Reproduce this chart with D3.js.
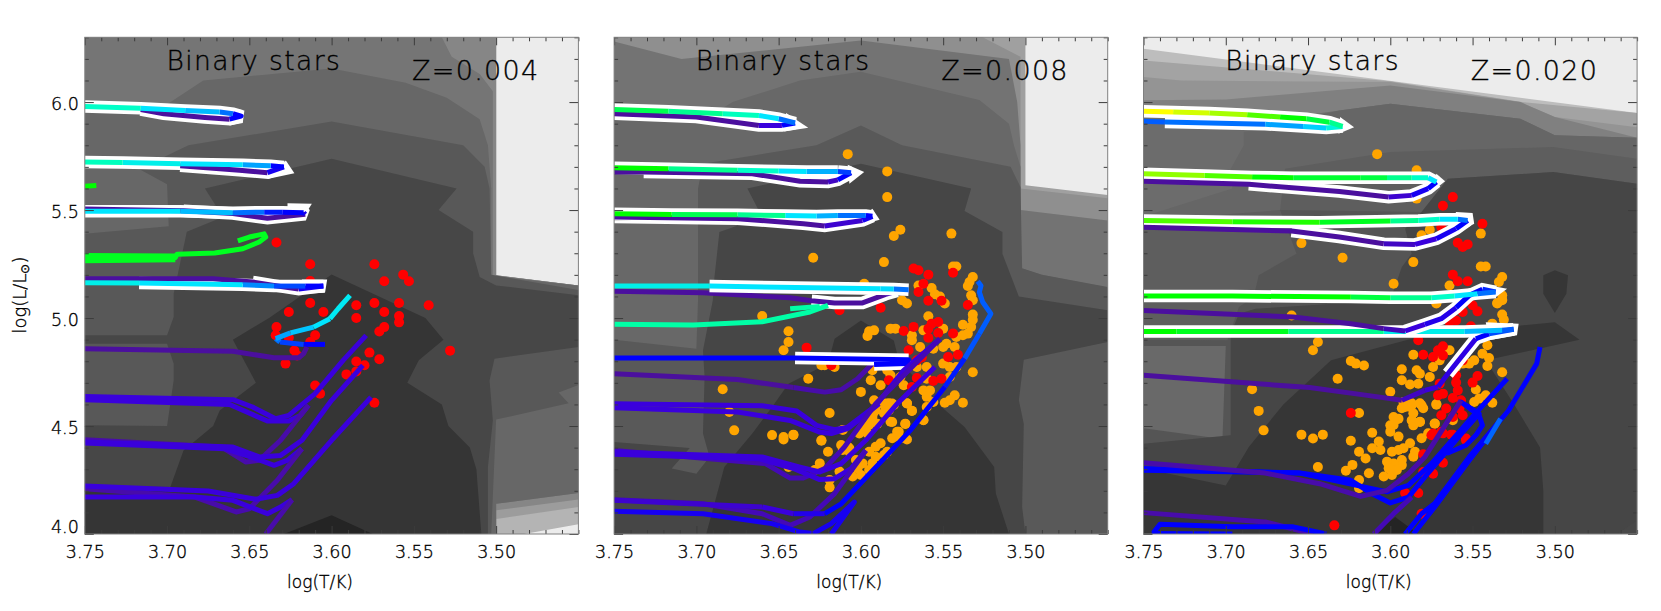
<!DOCTYPE html>
<html><head><meta charset="utf-8">
<script src="https://cdn.jsdelivr.net/npm/d3@7"></script>
<style>
html,body{margin:0;padding:0;background:#fff}
text{font-family:"DejaVu Sans",sans-serif;font-weight:200;fill:#000;stroke:#000;stroke-width:0.35}
</style></head><body>
<svg id="c" width="1661" height="611"></svg>
<script>
// ---------- DATA ----------
const metallicities = ["Z=0.004","Z=0.008","Z=0.020"];
const panelTitle = "Binary stars";
const xMajorTicks = [3.75,3.70,3.65,3.60,3.55,3.50];
const yMajorTicks = [4.0,4.5,5.0,5.5,6.0];

// density contours, logT/logL, outer to inner
const contours1 = [
 [[3.75,6.3],[3.50,6.3],[3.50,5.198],[3.45,5.151],[3.45,4.045],[3.483,4.0],[3.75,4.0]],
 [[3.75,6.3],[3.50,6.3],[3.50,5.198],[3.45,5.151],[3.45,4.125],[3.50,4.07],[3.50,4.0],[3.75,4.0]],
 [[3.75,6.3],[3.50,6.3],[3.50,5.198],[3.45,5.151],[3.45,4.16],[3.50,4.11],[3.50,4.0],[3.75,4.0]],
 [[3.75,6.3],[3.533,6.3],[3.527,6.21],[3.51,6.13],[3.502,6.05],[3.502,5.198],[3.45,5.151],[3.45,4.19],[3.50,4.14],[3.50,4.0],[3.75,4.0]],
 [[3.75,5.965],[3.702,5.98],[3.678,6.1],[3.60,6.155],[3.555,6.09],[3.53,6.02],[3.51,5.92],[3.505,5.8],[3.503,5.6],[3.503,5.195],[3.45,5.15],[3.45,4.19],[3.50,4.14],[3.50,4.0],[3.75,4.0]],
 [[3.75,5.39],[3.699,5.425],[3.70,5.62],[3.717,5.69],[3.687,5.80],[3.60,5.91],[3.52,5.80],[3.507,5.70],[3.504,5.60],[3.503,5.20],[3.45,5.13],[3.45,4.69],[3.462,4.655],[3.456,4.605],[3.50,4.53],[3.503,4.0],[3.75,4.0]],
 [[3.677,5.60],[3.60,5.738],[3.524,5.60],[3.535,5.50],[3.514,5.40],[3.514,5.30],[3.51,5.19],[3.50,5.151],[3.45,5.105],[3.45,4.866],[3.501,4.812],[3.504,4.711],[3.502,4.526],[3.505,4.31],[3.505,4.0],[3.75,4.0],[3.75,4.503],[3.70,4.50],[3.696,4.711],[3.696,4.789],[3.70,4.881],[3.75,4.881],[3.75,4.92],[3.70,4.92],[3.696,5.005],[3.696,5.113],[3.688,5.40],[3.666,5.468]],
 [[3.638,5.0],[3.60,5.202],[3.543,5.0],[3.532,4.90],[3.547,4.804],[3.554,4.70],[3.533,4.60],[3.529,4.50],[3.516,4.40],[3.512,4.30],[3.51,4.10],[3.509,4.0],[3.75,4.0],[3.75,4.225],[3.698,4.218],[3.69,4.387],[3.672,4.50],[3.668,4.572],[3.646,4.70],[3.66,4.90]],
 [[3.629,4.0],[3.60,4.087],[3.575,4.0]]
];
const contours2 = [
 [[3.75,6.3],[3.50,6.3],[3.50,5.615],[3.45,5.57],[3.45,4.0],[3.75,4.0]],
 [[3.75,6.3],[3.526,6.3],[3.503,6.21],[3.503,5.60],[3.45,5.555],[3.45,4.0],[3.75,4.0]],
 [[3.75,6.28],[3.709,6.2],[3.60,6.285],[3.51,6.2],[3.505,6.0],[3.503,5.8],[3.503,5.5],[3.45,5.452],[3.45,4.0],[3.75,4.0]],
 [[3.75,5.95],[3.695,5.92],[3.678,6.0],[3.637,6.1],[3.60,6.14],[3.528,6.01],[3.51,5.9],[3.507,5.8],[3.503,5.7],[3.503,5.23],[3.49,5.2],[3.45,5.14],[3.45,4.0],[3.75,4.0]],
 [[3.699,5.60],[3.696,5.715],[3.627,5.80],[3.60,5.892],[3.575,5.80],[3.509,5.70],[3.503,5.607],[3.502,5.23],[3.49,5.2],[3.45,5.144],[3.45,4.0],[3.75,4.0],[3.75,4.90],[3.70,4.858],[3.699,5.082]],
 [[3.669,5.60],[3.60,5.715],[3.533,5.60],[3.537,5.496],[3.514,5.398],[3.514,5.298],[3.504,5.10],[3.45,5.036],[3.45,4.889],[3.501,4.807],[3.504,4.619],[3.501,4.511],[3.502,4.125],[3.50,4.0],[3.75,4.0],[3.75,4.426],[3.704,4.398],[3.715,4.303],[3.70,4.279],[3.692,4.357],[3.696,4.465],[3.695,4.727],[3.696,4.85],[3.69,5.082],[3.689,5.19],[3.686,5.398],[3.66,5.468]],
 [[3.60,4.989],[3.616,4.904],[3.62,4.789],[3.644,4.696],[3.654,4.588],[3.666,4.465],[3.683,4.31],[3.694,4.0],[3.51,4.0],[3.518,4.187],[3.519,4.31],[3.537,4.495],[3.551,4.588],[3.577,4.804],[3.58,4.896]]
];
const contours3 = [
 [[3.75,6.247],[3.45,5.949],[3.45,4.0],[3.75,4.0]],
 [[3.75,6.193],[3.60,6.097],[3.52,6.0],[3.45,5.949],[3.45,4.0],[3.75,4.0]],
 [[3.75,6.116],[3.727,6.10],[3.60,6.093],[3.521,6.0],[3.50,5.931],[3.45,5.884],[3.45,4.0],[3.75,4.0]],
 [[3.75,6.008],[3.70,6.012],[3.60,6.077],[3.521,6.0],[3.50,5.931],[3.45,5.835],[3.45,4.0],[3.75,4.0]],
 [[3.75,5.95],[3.689,5.90],[3.631,5.961],[3.60,5.992],[3.521,5.923],[3.50,5.846],[3.45,5.835],[3.45,4.0],[3.75,4.0]],
 [[3.689,5.861],[3.631,5.961],[3.60,5.992],[3.521,5.923],[3.50,5.846],[3.45,5.835],[3.45,4.0],[3.75,4.0],[3.75,5.47],[3.696,5.60],[3.697,5.691],[3.689,5.80]],
 [[3.664,5.691],[3.60,5.769],[3.501,5.792],[3.45,5.738],[3.45,4.0],[3.75,4.0],[3.75,5.45],[3.667,5.50]],
 [[3.667,5.50],[3.581,5.491],[3.565,5.645],[3.501,5.676],[3.45,5.622],[3.45,4.0],[3.75,4.0],[3.75,4.9],[3.699,4.897],[3.692,5.051],[3.683,5.097],[3.68,5.198],[3.657,5.298]],
 [[3.75,4.87],[3.70,4.87],[3.702,4.44],[3.75,4.49]],
 [[3.581,5.491],[3.565,5.645],[3.501,5.676],[3.45,5.622],[3.45,4.0],[3.75,4.0],[3.75,4.418],[3.697,4.457],[3.697,4.927],[3.692,5.02],[3.682,5.043],[3.60,5.082],[3.593,5.236],[3.587,5.298],[3.591,5.414]],
 [[3.507,5.198],[3.50,5.221],[3.492,5.198],[3.493,5.113],[3.50,5.023],[3.507,5.113]],
 [[3.579,4.92],[3.50,4.981],[3.485,4.90],[3.542,4.804],[3.525,4.603],[3.509,4.40],[3.507,4.202],[3.507,4.0],[3.75,4.0],[3.75,4.303],[3.70,4.225],[3.686,4.403],[3.665,4.60],[3.636,4.804]],
 [[3.61,4.0],[3.597,4.079],[3.583,4.0]],
 [[3.462,4.0],[3.45,4.063],[3.45,4.0]]
];

// evolutionary tracks: [logT, logL, colour value]
const tracks1 = [
 [[3.75,5.98,3.5],[3.716,5.972,3],[3.689,5.961,2.6],[3.668,5.954,2],[3.66,5.946,1],[3.655,5.935,1],[3.662,5.921,0],[3.677,5.929,0],[3.702,5.946,0],[3.716,5.965,0]],
 [[3.75,5.722,3.6],[3.727,5.72,3.2],[3.692,5.715,3],[3.654,5.71,2.4],[3.637,5.705,1],[3.629,5.70,0.8],[3.639,5.673,0],[3.656,5.684,0],[3.692,5.705,0]],
 [[3.75,5.495,3],[3.692,5.494,2.6],[3.66,5.488,2],[3.641,5.49,1.2],[3.63,5.49,1],[3.617,5.488,0.8],[3.616,5.48,0],[3.639,5.462,0],[3.66,5.484,0],[3.69,5.497,0],[3.75,5.505,0]],
 [[3.75,5.164,3.2],[3.717,5.162,3],[3.654,5.154,2.2],[3.635,5.148,1.6],[3.616,5.148,1],[3.605,5.148,0.8],[3.62,5.134,0],[3.635,5.151,0],[3.648,5.167,0],[3.672,5.182,0],[3.75,5.182,0]],
 [[3.75,5.61,5],[3.743,5.614,5]],
 [[3.75,5.265,4.8],[3.695,5.27,4.8]],
 [[3.75,5.29,4.8],[3.695,5.287,4.8]],
 [[3.75,5.279,4.8],[3.695,5.279,4.8],[3.694,5.295,4.8],[3.671,5.301,4.8],[3.654,5.321,4.8],[3.644,5.352,4.8],[3.64,5.375,4.8],[3.641,5.39,4.8],[3.65,5.375,4.8],[3.657,5.357,4.8]],
 [[3.5888,5.105,3.1],[3.596,5.043,3.1],[3.601,4.997,3],[3.611,4.958,2.7],[3.625,4.931,2.4],[3.634,4.905,2],[3.6314,4.889,1.5],[3.617,4.878,1],[3.604,4.878,1]],
 [[3.75,4.858,0],[3.66,4.846,0],[3.635,4.816,0],[3.62,4.816,0],[3.617,4.835,0],[3.615,4.866,0]],
 [[3.75,4.637,0.5],[3.66,4.622,0.5],[3.648,4.588,0.5],[3.634,4.534,0.5],[3.626,4.549,0.5],[3.61,4.65,0.5],[3.593,4.804,0.5],[3.579,4.92,0.5]],
 [[3.75,4.622,0.5],[3.662,4.60,0.5],[3.639,4.523,0.5],[3.626,4.523,0.5],[3.619,4.549,0.5],[3.614,4.596,0.5]],
 [[3.75,4.437,0.1],[3.667,4.403,0.1],[3.652,4.333,0.1],[3.644,4.341,0.1],[3.631,4.434,0.1],[3.614,4.596,0.1]],
 [[3.75,4.421,0.5],[3.665,4.395,0.5],[3.646,4.349,0.5],[3.635,4.318,0.5],[3.627,4.341,0.5],[3.618,4.395,0.5]],
 [[3.75,4.426,0.5],[3.66,4.403,0.5],[3.644,4.357,0.5],[3.631,4.364,0.5],[3.618,4.434,0.5],[3.60,4.619,0.5],[3.581,4.781,0.5]],
 [[3.75,4.21,0.1],[3.683,4.171,0.1],[3.658,4.102,0.1],[3.65,4.117,0.1],[3.633,4.249,0.1],[3.618,4.395,0.1]],
 [[3.75,4.171,0.5],[3.683,4.171,0.5],[3.66,4.156,0.5],[3.639,4.094,0.5],[3.631,4.125,0.5],[3.624,4.159,0.5]],
 [[3.624,4.159,0.1],[3.64,4.0,0.1]],
 [[3.75,4.222,0.5],[3.675,4.199,0.5],[3.646,4.161,0.5],[3.633,4.179,0.5],[3.623,4.233,0.5],[3.60,4.434,0.5],[3.576,4.634,0.5]]
];
const whiteSpans1 = [[[0,9]],[[0,8]],[[0,5],[5,9]],[[1,5],[5,8]],[],[],[],[],[],[],[],[],[],[],[],[],[],[],[]];
const whiteCaps1 = [
 [[3.662,5.974],[3.653,5.961],[3.654,5.903],[3.662,5.892]],
 [[3.6278,5.73],[3.6226,5.671],[3.639,5.644]],
 [[3.6268,5.532],[3.612,5.529],[3.617,5.468],[3.6268,5.452]],
 [[3.618,5.178],[3.6027,5.178],[3.604,5.117],[3.6226,5.11]],
 [],[],[],[],[],[],[],[],[],[],[],[],[],[],[]
];

const tracks2 = [
 [[3.75,5.966,4.5],[3.717,5.958,4],[3.684,5.946,3.6],[3.662,5.938,3],[3.65,5.923,2],[3.64,5.903,1],[3.648,5.892,0.5],[3.662,5.892,0],[3.70,5.931,0],[3.75,5.946,0]],
 [[3.75,5.696,5],[3.717,5.691,4],[3.675,5.684,3.5],[3.65,5.681,3],[3.633,5.679,2.5],[3.614,5.679,1.5],[3.606,5.673,1],[3.614,5.64,0.3],[3.62,5.63,0],[3.637,5.633,0],[3.666,5.668,0],[3.732,5.676,0],[3.75,5.676,0]],
 [[3.75,5.483,5],[3.715,5.48,4.5],[3.675,5.478,4],[3.646,5.475,3],[3.627,5.472,2.5],[3.614,5.475,2],[3.597,5.475,1],[3.593,5.471,0.8],[3.599,5.452,0.4],[3.622,5.426,0],[3.635,5.437,0],[3.675,5.46,0],[3.75,5.468,0]],
 [[3.75,5.124,0],[3.696,5.117,0],[3.643,5.094,0],[3.63,5.08,0],[3.616,5.07,0],[3.599,5.07,0],[3.585,5.11,0.2],[3.578,5.125,0.6],[3.571,5.128,1]],
 [[3.75,5.148,3.2],[3.692,5.148,3],[3.588,5.136,2.9],[3.58,5.134,2],[3.571,5.131,1.5]],
 [[3.643,5.043,3.8],[3.625,5.054,3.8]],
 [[3.75,4.971,3.8],[3.702,4.968,3.8],[3.66,4.983,3.8],[3.631,5.028,3.8],[3.62,5.059,3.8]],
 [[3.75,4.742,0],[3.675,4.715,0],[3.641,4.678,0.1],[3.622,4.657,0.1],[3.612,4.668,0.1],[3.602,4.719,0.1],[3.592,4.796,0.1]],
 [[3.75,4.815,1],[3.64,4.815,1],[3.571,4.807,1],[3.572,4.79,1],[3.592,4.785,1]],
 [[3.75,4.603,0.5],[3.66,4.594,0.5],[3.639,4.57,0.5],[3.627,4.503,0.5],[3.616,4.483,0.5],[3.608,4.495,0.5],[3.591,4.594,0.5],[3.574,4.758,0.5],[3.552,4.904,0.5]],
 [[3.75,4.585,0.5],[3.675,4.565,0.5],[3.643,4.526,0.5],[3.625,4.472,0.5],[3.618,4.465,0.5],[3.608,4.488,0.5],[3.599,4.542,0.5],[3.589,4.603,0.5]],
 [[3.75,4.387,0.2],[3.658,4.326,0.2],[3.643,4.259,0.2],[3.635,4.259,0.2],[3.622,4.303,0.2],[3.61,4.403,0.2],[3.591,4.603,0.2],[3.552,4.904,0.2]],
 [[3.75,4.369,0.5],[3.662,4.349,0.5],[3.641,4.303,0.5],[3.625,4.252,0.5],[3.616,4.256,0.5],[3.606,4.303,0.5],[3.597,4.387,0.5]],
 [[3.75,4.38,0.5],[3.66,4.357,0.5],[3.637,4.31,0.5],[3.625,4.287,0.5],[3.612,4.326,0.5],[3.597,4.434,0.5],[3.578,4.603,0.5],[3.555,4.773,0.5]],
 [[3.75,4.159,0.2],[3.696,4.14,0.2],[3.66,4.094,0.2],[3.643,4.04,0.2],[3.631,4.079,0.2],[3.616,4.187,0.2],[3.597,4.387,0.2]],
 [[3.75,4.105,0.8],[3.696,4.094,0.8],[3.654,4.048,0.8],[3.637,4.009,0.8],[3.629,4.002,0.8],[3.618,4.048,0.8],[3.604,4.148,0.8],[3.618,4.0,0.3]],
 [[3.75,4.156,0.4],[3.66,4.125,0.5],[3.641,4.094,0.7],[3.622,4.094,1],[3.612,4.14,1],[3.585,4.357,1],[3.57,4.48,1],[3.549,4.681,1.2],[3.537,4.812,1.7],[3.528,4.927,1.8],[3.521,5.02,1.8],[3.526,5.074,1.8],[3.528,5.12,1.8],[3.527,5.15,1.8],[3.529,5.17,1.8]]
];
const whiteSpans2 = [[[0,9]],[[0,5],[5,11]],[[0,12]],[[3,7]],[[1,4]],[],[],[],[[1,2],[2,4]],[],[],[],[],[],[],[],[]];
const whiteCaps2 = [
 [[3.6455,5.949],[3.632,5.881],[3.6466,5.864]],
 [[3.608,5.71],[3.598,5.676],[3.607,5.622]],
 [[3.593,5.506],[3.5886,5.455],[3.609,5.414]],
 [],[],[],[],[],[],[],[],[],[],[],[],[],[]
];

const tracks3 = [
 [[3.75,5.958,7],[3.732,5.954,6.6],[3.71,5.949,6.2],[3.687,5.941,5.5],[3.667,5.931,5],[3.651,5.923,4.6],[3.637,5.907,4],[3.629,5.887,3.3],[3.639,5.88,2.8],[3.653,5.887,2.4],[3.676,5.897,2],[3.737,5.908,1.8],[3.75,5.911,1.6]],
 [[3.75,5.668,6],[3.713,5.66,5.5],[3.684,5.653,5],[3.659,5.65,4.7],[3.618,5.65,4.6],[3.602,5.65,4],[3.587,5.65,3.5],[3.577,5.65,3],[3.572,5.63,1],[3.577,5.599,0.8],[3.587,5.568,0.4],[3.601,5.56,0],[3.631,5.586,0],[3.686,5.619,0],[3.75,5.633,0]],
 [[3.75,5.452,5.5],[3.696,5.446,5.2],[3.643,5.444,4.8],[3.60,5.449,4],[3.583,5.452,3.5],[3.57,5.457,3],[3.559,5.457,2],[3.553,5.452,1],[3.56,5.414,0.8],[3.572,5.367,0.5],[3.585,5.341,0.3],[3.604,5.344,0],[3.631,5.375,0],[3.66,5.403,0],[3.75,5.421,0]],
 [[3.75,4.938,5],[3.73,4.938,4.8],[3.662,4.938,4],[3.604,4.938,3.2],[3.555,4.938,2.6],[3.532,4.943,1.8],[3.525,4.948,1.6],[3.54,4.927,1],[3.548,4.904,0.6],[3.565,4.742,0.6],[3.571,4.681,0.5],[3.579,4.665,0.3],[3.593,4.619,0],[3.614,4.642,0],[3.649,4.678,0],[3.75,4.735,0]],
 [[3.75,5.102,5],[3.696,5.102,5],[3.624,5.097,4.6],[3.60,5.094,4],[3.575,5.094,3.5],[3.561,5.102,3],[3.547,5.113,2],[3.536,5.121,1.3],[3.544,5.133,1],[3.552,5.105,1],[3.56,5.048,0.7],[3.569,4.997,0.7],[3.579,4.971,0.5],[3.591,4.94,0.2],[3.604,4.951,0],[3.624,4.974,0],[3.659,5.005,0],[3.75,5.035,0]],
 [[3.75,4.303,1],[3.655,4.282,1],[3.624,4.249,1],[3.612,4.19,1],[3.60,4.144,1],[3.589,4.171,1],[3.579,4.264,1],[3.567,4.372,1],[3.555,4.48,1],[3.546,4.557,1],[3.557,4.611,1],[3.546,4.549,1],[3.544,4.503,1],[3.548,4.457,1],[3.554,4.411,1],[3.565,4.375,1],[3.567,4.395,1]],
 [[3.75,4.295,1],[3.655,4.282,1],[3.602,4.195,1],[3.589,4.225,1],[3.575,4.326,1],[3.552,4.526,1],[3.542,4.611,1],[3.529,4.719,1]],
 [[3.75,4.33,0.1],[3.676,4.282,0.1],[3.643,4.233,0.1],[3.618,4.174,0.1],[3.602,4.202,0.1],[3.589,4.279,0.1],[3.579,4.357,0.1],[3.557,4.619,0.1]],
 [[3.591,4.0,1],[3.581,4.094,1],[3.573,4.141,1],[3.552,4.357,1],[3.528,4.573,1],[3.511,4.789,1],[3.509,4.866,1]],
 [[3.586,4.0,1],[3.573,4.125,1],[3.552,4.341,1],[3.534,4.519,1]],
 [[3.542,4.418,1.9],[3.533,4.534,1.9]],
 [[3.75,4.099,0.1],[3.676,4.056,0.1],[3.647,4.0,0.1]],
 [[3.744,4.006,1],[3.74,4.045,1],[3.696,4.033,1],[3.659,4.033,1],[3.639,4.0,1]],
 [[3.745,4.002,1],[3.696,4.0,1]],
 [[3.61,4.0,0.2],[3.598,4.094,0.2],[3.587,4.171,0.2]]
];
const whiteSpans3 = [[[0,7],[7,11]],[[0,8],[8,13]],[[0,7],[7,13]],[[0,6],[6,9]],[[0,7],[7,13]],[],[],[],[],[],[],[],[],[],[]];
const whiteCaps3 = [
 [[3.6305,5.931],[3.622,5.884],[3.6315,5.853]],
 [[3.572,5.668],[3.5667,5.634],[3.575,5.583]],
 [[3.56,5.491],[3.55,5.486],[3.549,5.437],[3.571,5.344]],
 [[3.542,4.981],[3.522,4.974],[3.523,4.92],[3.54,4.897]],
 [[3.542,5.154],[3.529,5.136],[3.537,5.09]],
 [],[],[],[],[],[],[],[],[],[]
];

// observed stars
const redT1 = [3.6335,3.613,3.574,3.613,3.5565,3.568,3.553,3.613,3.585,3.574,3.559,3.541,3.626,3.605,3.568,3.585,3.559,3.559,3.568,3.571,3.6335,3.634,3.626,3.61,3.613,3.6226,3.621,3.628,3.585,3.577,3.571,3.58,3.585,3.591,3.61,3.607,3.574,3.528];
const redL1 = [5.35,5.249,5.249,5.171,5.201,5.17,5.17,5.07,5.059,5.07,5.07,5.059,5.028,5.028,5.028,5.0,5.009,4.98,4.958,4.938,4.958,4.92,4.909,4.92,4.889,4.85,4.827,4.789,4.799,4.84,4.809,4.781,4.753,4.739,4.688,4.65,4.608,4.849];

const orangeT2 = [3.576,3.58,3.545,3.629,3.586,3.544,3.542,3.532,3.534,3.535,3.598,3.557,3.565,3.552,3.533,3.532,3.575,3.572,3.549,3.555,3.559,3.532,3.532,3.538,3.533,3.579,3.582,3.595,3.592,3.596,3.569,3.569,3.562,3.55,3.542,3.535,3.538,3.644,3.644,3.647,3.564,3.556,3.55,3.548,3.543,3.566,3.56,3.55,3.546,3.542,3.624,3.616,3.622,3.593,3.584,3.582,3.588,3.594,3.632,3.6,3.576,3.574,3.56,3.546,3.532,3.562,3.558,3.543,3.546,3.549,3.538,3.556,3.569,3.572,3.56,3.56,3.619,3.592,3.585,3.581,3.583,3.592,3.594,3.597,3.581,3.573,3.578,3.562,3.641,3.624,3.647,3.601,3.59,
 3.608,3.584,3.584,3.66,3.684,3.68,3.677,3.654,3.647,3.641,3.644,
 3.593,3.595,3.6,3.596,3.593,3.591,3.588,3.583,3.58,3.585,3.586,3.572,3.569,3.582,3.573,3.577,3.581,3.576,3.572,3.562,3.588,3.591,3.595,3.584,3.586,3.591,3.593,3.599,3.602,3.605,3.6,3.595,3.603,3.607,3.611,3.613,3.62,3.624,3.625,3.628,3.619,3.619,3.611,3.612,3.607,3.608];
const orangeL2 = [5.409,5.38,5.391,5.279,5.259,5.239,5.239,5.19,5.167,5.148,5.159,5.139,5.151,5.1,5.105,5.082,5.082,5.067,5.067,5.11,5.008,5.016,4.992,4.969,4.959,4.951,4.951,4.939,4.943,4.917,4.92,4.897,4.943,4.951,4.912,4.928,4.92,4.939,4.889,4.851,4.866,4.858,4.866,4.881,4.866,4.773,4.773,4.789,4.773,4.773,4.781,4.773,4.781,4.758,4.758,4.735,4.689,4.712,4.719,4.658,4.727,4.689,4.719,4.727,4.749,4.665,4.665,4.642,4.619,4.608,4.608,4.611,4.57,4.604,4.635,4.588,4.56,4.619,4.604,4.604,4.573,4.565,4.527,4.496,4.519,4.511,4.473,4.527,4.46,4.434,4.449,4.465,4.511,
 5.759,5.679,5.56,5.009,4.67,4.565,4.48,4.458,4.438,4.458,4.31,
 4.528,4.505,4.474,4.466,4.543,4.574,4.605,4.605,4.597,4.574,4.559,4.605,4.571,4.52,4.509,4.474,4.443,4.443,4.438,4.528,4.42,4.404,4.381,4.381,4.366,4.358,4.327,4.327,4.304,4.266,4.273,4.296,4.343,4.397,4.389,4.289,4.381,4.432,4.327,4.296,4.25,4.216,4.482,4.412,4.381,4.404];
const redT2 = [3.568,3.565,3.559,3.544,3.562,3.565,3.559,3.551,3.535,3.588,3.613,3.553,3.557,3.559,3.574,3.568,3.553,3.559,3.544,3.633,3.571,3.563,3.566,3.547,3.541,3.618,3.583,3.566,3.556,3.551,3.569];
const redL2 = [5.229,5.221,5.201,5.21,5.159,5.121,5.08,5.08,5.06,5.048,5.036,4.982,4.974,4.951,4.94,4.959,4.931,4.909,4.929,4.863,4.851,4.817,4.804,4.82,4.83,4.781,4.712,4.722,4.709,4.719,4.681];

const orangeT3 = [3.545,3.586,3.629,3.654,3.545,3.542,3.532,3.534,3.564,3.598,3.532,3.532,3.535,3.572,3.532,3.531,3.538,3.541,3.544,3.54,3.541,3.532,3.549,3.644,3.647,3.586,3.624,3.621,3.616,3.632,3.593,3.593,3.588,3.584,3.582,3.583,3.6,3.576,3.574,3.57,3.564,3.548,3.542,3.538,3.546,3.549,3.572,3.591,3.587,3.581,3.592,3.619,3.595,3.598,3.6,3.587,3.582,3.586,3.573,3.654,3.647,3.641,3.562,3.556,3.56,3.552,
 3.684,3.68,3.677,3.644,3.608,3.584,3.584,3.576,3.581,3.572,3.535,3.532,3.66,
 3.593,3.589,3.587,3.582,3.58,3.586,3.586,3.582,3.596,3.598,3.6,3.595,3.611,3.624,3.572,3.573,3.581,3.577,3.588,3.592,3.595,3.599,3.585,3.586,3.593,3.593,3.598,3.602,3.604,3.599,3.596,3.601,3.607,3.606,3.611,3.615,3.619,3.623,3.627,3.613,3.619,3.619];
const orangeL3 = [5.391,5.259,5.279,5.347,5.239,5.239,5.19,5.167,5.151,5.159,5.105,5.082,5.067,5.067,5.016,4.992,4.974,4.874,4.835,4.815,4.778,4.749,4.804,4.889,4.851,4.83,4.801,4.789,4.78,4.719,4.763,4.712,4.692,4.758,4.742,4.696,4.659,4.727,4.773,4.804,4.851,4.669,4.642,4.608,4.627,4.611,4.599,4.588,4.596,4.596,4.611,4.56,4.534,4.542,4.503,4.526,4.519,4.503,4.511,4.46,4.442,4.46,4.527,4.789,4.773,4.789,
 4.67,4.57,4.48,4.31,5.759,5.684,5.553,5.409,5.383,5.07,5.07,5.086,5.012,
 4.582,4.59,4.605,4.605,4.582,4.559,4.52,4.52,4.531,4.505,4.474,4.451,4.469,4.432,4.602,4.512,4.443,4.466,4.42,4.397,4.389,4.381,4.381,4.358,4.343,4.319,4.327,4.335,4.266,4.273,4.296,4.304,4.428,4.389,4.397,4.35,4.381,4.32,4.293,4.281,4.25,4.212];
const redT3 = [3.544,3.559,3.556,3.553,3.562,3.559,3.553,3.55,3.547,3.556,3.56,3.564,3.551,3.583,3.571,3.568,3.568,3.58,3.556,3.574,3.547,3.55,3.56,3.559,3.57,3.571,3.568,3.562,3.557,3.558,3.624,3.569,3.566,3.556,3.562,3.569,3.562,3.574,3.554,3.56,3.568,3.574,3.58,3.583,3.591,3.58,3.634,3.581,3.563,3.554,3.575,3.562,3.568,3.569,3.568];
const redL3 = [5.437,5.349,5.329,5.341,5.201,5.17,5.17,5.059,5.031,5.028,4.989,4.982,4.962,4.897,4.851,4.869,4.827,4.83,4.804,4.82,4.732,4.701,4.701,4.665,4.696,4.642,4.65,4.63,4.619,4.581,4.56,4.55,4.581,4.55,4.542,4.473,4.46,4.465,4.442,4.735,4.33,4.279,4.287,4.19,4.19,4.369,4.04,4.094,4.46,4.434,4.457,5.56,5.52,5.421,4.466];

// ---------- STYLE ----------
const greys1 = ["#b4b4b4","#9c9c9c","#868686","#757575","#676767","#585858","#474747","#353535","#242424"];
const greys2 = ["#a0a0a0","#8f8f8f","#737373","#686868","#595959","#464646","#353535"];
const greys3 = ["#bdbdbd","#a3a3a3","#949494","#808080","#6c6c6c","#666666","#5e5e5e","#555555","#696969","#464646","#363636","#363636","#242424","#484848"];
const trackColourStops = [0,0.5,1,1.5,2,2.5,3,3.5,4,4.5,5,5.5,6,6.5,7];
const trackColours = ["#4b0f9e","#3a00dc","#0000ff","#0040ff","#0070ff","#00b0ff","#00e5ff","#00ffc8","#00ff90","#00ff50","#00ff00","#50ff00","#90ff00","#c8ff00","#ffff00"];

const panels = [
 {x0:84.8, z:metallicities[0], poly:contours1, grey:greys1, tracks:tracks1, spans:whiteSpans1, caps:whiteCaps1, orange:[[],[]], red:[redT1,redL1], yLabels:true},
 {x0:614.1,z:metallicities[1], poly:contours2, grey:greys2, tracks:tracks2, spans:whiteSpans2, caps:whiteCaps2, orange:[orangeT2,orangeL2], red:[redT2,redL2]},
 {x0:1143.5,z:metallicities[2],poly:contours3, grey:greys3, tracks:tracks3, spans:whiteSpans3, caps:whiteCaps3, orange:[orangeT3,orangeL3], red:[redT3,redL3]}
];
const W=493.6, TOP=37.3, BOT=534;
const colour = d3.scaleLinear().domain(trackColourStops).range(trackColours).clamp(true);
const svg = d3.select("#c");
const defs = svg.append("defs");

panels.forEach((p,pi)=>{
 const x = d3.scaleLinear().domain([3.75,3.45]).range([p.x0,p.x0+W]);
 const y = d3.scaleLinear().domain([4.0,6.3]).range([BOT,TOP]);
 const line = d3.line().x(d=>x(d[0])).y(d=>y(d[1]));
 defs.append("clipPath").attr("id","clip"+pi).append("rect").attr("x",p.x0).attr("y",TOP).attr("width",W).attr("height",BOT-TOP);
 const g = svg.append("g").attr("clip-path",`url(#clip${pi})`);
 g.append("rect").attr("x",p.x0).attr("y",TOP).attr("width",W).attr("height",BOT-TOP).attr("fill","#ececec");
 g.selectAll("path.cont").data(p.poly).join("path").attr("class","cont")
  .attr("d",d=>line(d)+"Z").attr("fill",(d,i)=>p.grey[i]);
 const dots=(arr,c)=>g.append("g").selectAll("circle").data(arr[0]).join("circle")
  .attr("cx",d=>x(d)).attr("cy",(d,i)=>y(arr[1][i])).attr("r",5).attr("fill",c);
 dots(p.orange,"#ffa500");
 dots(p.red,"#ff0000");
 p.tracks.forEach((t,ti)=>{
  (p.spans[ti]||[]).forEach(s=>{
   g.append("path").attr("d",line(t.slice(s[0],s[1]+1))).attr("fill","none")
    .attr("stroke","#fff").attr("stroke-width",12.5).attr("stroke-linejoin","miter").attr("stroke-miterlimit",2);
  });
  if((p.caps[ti]||[]).length) g.append("path").attr("d",line(p.caps[ti])+"Z").attr("fill","#fff");
  let st=0;
  const runs=[];
  for(let i=1;i<t.length;i++){
   if(i===t.length-1||t[i][2]!==t[st][2]){runs.push([st,i]);st=i;}
  }
  runs.reverse().forEach(r=>{
   g.append("path").attr("d",line(t.slice(r[0],r[1]+1))).attr("fill","none")
    .attr("stroke",colour(t[r[0]][2])).attr("stroke-width",5)
    .attr("stroke-linejoin","round").attr("stroke-linecap","butt");
  });
 });
 // axes
 const xMinor=d3.range(0,31).map(i=>+(3.45+i*0.01).toFixed(2)).filter(v=>!xMajorTicks.includes(v));
 const yMinor=d3.range(0,24).map(i=>+(4+i*0.1).toFixed(1)).filter(v=>!yMajorTicks.includes(v));
 const ax=svg.append("g").attr("class","ax");
 const add=(axis,tx,ty)=>{const a=ax.append("g").attr("transform",`translate(${tx},${ty})`).call(axis);
   a.select(".domain").remove();a.selectAll("line").attr("stroke","#3c3c3c").attr("stroke-width",1);return a;};
 const xb=add(d3.axisBottom(x).tickValues(xMajorTicks).tickSize(-8).tickFormat(d3.format(".2f")),0,BOT);
 xb.selectAll("text").attr("y",24).attr("font-size",17.5).attr("dy",0);
 add(d3.axisBottom(x).tickValues(xMinor).tickSize(-4).tickFormat(""),0,BOT);
 add(d3.axisTop(x).tickValues(xMajorTicks).tickSize(-8).tickFormat(""),0,TOP);
 add(d3.axisTop(x).tickValues(xMinor).tickSize(-4).tickFormat(""),0,TOP);
 const yl=add(d3.axisLeft(y).tickValues(yMajorTicks).tickSize(-9).tickFormat(p.yLabels?d3.format(".1f"):""),p.x0,0);
 if(p.yLabels){yl.selectAll("text").attr("x",-6).attr("font-size",17.5).attr("dy",d=>d===4?"-0.1em":"0.42em");}
 add(d3.axisLeft(y).tickValues(yMinor).tickSize(-4).tickFormat(""),p.x0,0);
 add(d3.axisRight(y).tickValues(yMajorTicks).tickSize(-9).tickFormat(""),p.x0+W,0);
 add(d3.axisRight(y).tickValues(yMinor).tickSize(-4).tickFormat(""),p.x0+W,0);
 svg.append("rect").attr("x",p.x0).attr("y",TOP).attr("width",W).attr("height",BOT-TOP).attr("fill","none").attr("stroke","#808080").attr("stroke-width",1);
 // labels
 svg.append("text").attr("x",p.x0+W/2-11.6).attr("y",588).attr("text-anchor","middle").attr("font-size",17).text("log(T/K)");
 svg.append("text").attr("x",p.x0+169).attr("y",70).attr("text-anchor","middle").attr("font-size",26.5).attr("letter-spacing",1.4).text(panelTitle);
 svg.append("text").attr("x",p.x0+391).attr("y",80).attr("text-anchor","middle").attr("font-size",27).attr("letter-spacing",1.3).text(p.z);
});
const yt=svg.append("text").attr("transform","translate(26,295) rotate(-90)").attr("text-anchor","middle").attr("font-size",18);
yt.append("tspan").text("log(L/L");
yt.append("tspan").attr("font-size",12).attr("dy",3).text("\u2299");
yt.append("tspan").attr("dy",-3).text(")");
</script>
</body></html>
